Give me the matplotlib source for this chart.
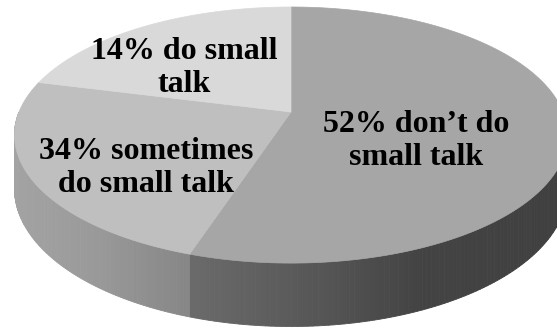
import numpy as np
import matplotlib.pyplot as plt

# slices clockwise from 12 o'clock
labels = ['52% don\u2019t do\nsmall talk', '34% sometimes\ndo small talk', '14% do small\ntalk']
# slice sizes as drawn on the picture (the drawing does not follow the label values exactly)
shares = [55, 24, 21]

top_colors = ['#a6a6a6', '#bfbfbf', '#d9d9d9']
# x centre and last-line baseline of each label, in pixels
label_pos = [(416.5, 165), (146, 192), (184.5, 92)]

# projected disc (pixel space): centre, half axes, perspective, depth
cx, cy = 291, 112
A, B, p = 272, 123.9, 0.18
D = 52


def proj(t, down=0.0):
    u, v = np.cos(t), np.sin(t)
    w = 1 + p * v
    return cx + A * u / w, cy - B * v / w + down / w


def wall_gray(i, x):
    if i == 0:
        return np.interp(x, [187, 300, 420, 560], [0.42, 0.35, 0.265, 0.25])
    return np.interp(x, [14, 100, 185], [0.64, 0.6, 0.53])


fig = plt.figure(figsize=(5.57, 3.31), dpi=100)
ax = fig.add_axes([0, 0, 1, 1])
ax.set_xlim(0, 557)
ax.set_ylim(331, 0)
ax.axis('off')

frac = np.cumsum([0] + shares) / sum(shares)
edges = np.radians(90 - 360 * frac)

# side walls (front half only)
for i in range(len(shares)):
    a0, a1 = edges[i + 1], edges[i]
    lo, hi = max(a0, -np.pi), min(a1, 0.0)
    if i == 2:
        lo, hi = max(a0 - 2 * np.pi, -np.pi), min(a1 - 2 * np.pi, 0.0)
    if hi <= lo:
        continue
    ts = np.linspace(lo, hi, 120)
    for t0, t1 in zip(ts[:-1], ts[1:]):
        x0, y0 = proj(t0)
        x1, y1 = proj(t1)
        x2, y2 = proj(t1, D)
        x3, y3 = proj(t0, D)
        g = wall_gray(i, (x0 + x1) / 2)
        c = (g, g, g)
        ax.fill([x0, x1, x2, x3], [y0, y1, y2, y3], color=c, ec=c, lw=0.6)

# top faces
for i in range(len(shares)):
    ts = np.linspace(edges[i + 1], edges[i], 200)
    xs, ys = proj(ts)
    ax.fill(np.r_[cx, xs], np.r_[cy, ys], color=top_colors[i], ec=top_colors[i], lw=0.5)

for lab, (x, y) in zip(labels, label_pos):
    ax.text(x, y, lab, ha='center', va='baseline', fontsize=23, fontweight='bold',
            family='Liberation Serif', color='black', linespacing=1.2)

fig.savefig('out.png', dpi=100)
